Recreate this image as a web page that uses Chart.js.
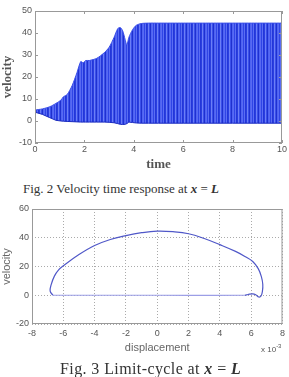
<!DOCTYPE html>
<html>
<head>
<meta charset="utf-8">
<script src="https://cdn.jsdelivr.net/npm/chart.js@4/dist/chart.umd.min.js"></script>
<style>
  body { margin: 0; background: #fff; width: 289px; height: 377px; position: relative; overflow: hidden; }
  .box { position: absolute; left: 0; width: 289px; }
  .cap { position: absolute; font-family: "Liberation Serif", serif; color: #333; white-space: nowrap; }
  .cap b { font-style: italic; }
  #exp { position: absolute; left: 261px; top: 343px; font-family: "Liberation Sans", sans-serif; font-size: 8px; color: #555; }
  #exp sup { font-size: 6px; }
</style>
</head>
<body>
<div class="box" style="top:0;height:172px"><canvas id="graph2" width="289" height="172"></canvas></div>
<div class="cap" id="cap2" style="left:23px;top:181px;font-size:13px">Fig. 2 Velocity time response at <b>x</b> = <b>L</b></div>
<div class="box" style="top:200px;height:155px"><canvas id="graph3" width="289" height="155"></canvas></div>
<div id="exp">x 10<sup>-3</sup></div>
<div class="cap" id="cap3" style="left:60px;top:360px;font-size:16px;letter-spacing:0.4px">Fig. 3 Limit‑cycle at <b>x</b> = <b>L</b></div>
<script>
// Fig. 2 - envelope of the velocity oscillation
const timeVals = [0, 0.3, 0.6, 0.85, 1.05, 1.15, 1.3, 1.5, 1.7, 1.85, 1.95, 2.05, 2.2, 2.5, 2.8, 3.0, 3.2, 3.35, 3.45, 3.55, 3.65, 3.72, 3.8, 3.95, 4.1, 4.3, 4.6, 5, 6, 7, 8, 9, 10];
const velUpper = [5, 5.5, 6.5, 8, 9.5, 11, 12, 16, 22, 27, 26.5, 27.5, 27.5, 28.5, 31, 33.5, 38, 42, 42.5, 41, 37, 34.5, 38, 41.5, 43.5, 44.3, 44.5, 44.5, 44.5, 44.5, 44.5, 44.5, 44.5];
const velLower = [4, 3, 1.5, 0.3, 0, -0.1, -0.2, -0.3, -0.4, -0.5, -0.5, -0.5, -0.5, -0.5, -0.5, -0.6, -0.8, -1.2, -1.5, -1.6, -1.5, -1.2, -0.5, -0.7, -0.9, -1, -1, -1, -1, -1, -1, -1, -1];

// Fig. 3 - limit cycle (displacement x 10^-3, velocity)
const dispCycle = [-6.67, -6.84, -6.78, -6.57, -6.3, -6.0, -5.0, -4.0, -3.0, -2.0, -1.0, 0, 1.0, 2.0, 3.0, 4.0, 5.0, 5.6, 6.1, 6.45, 6.65, 6.74, 6.72, 6.63, 6.48, 6.31, 6.1, 5.79, 5.58, 0, -6.67];
const velCycle  = [0, 2.9, 7.2, 13.3, 17.6, 20.5, 28.3, 34.6, 38.8, 41.5, 43.5, 44.6, 44.2, 42.8, 39.5, 35.2, 30.5, 27, 23.5, 18.5, 13, 7.7, 3, -0.5, -1.2, 0.2, 1, 0.5, 0, 0, 0];

const timeTicks = [0, 2, 4, 6, 8, 10];
const velTicks2 = [-10, 0, 10, 20, 30, 40, 50];
const dispTicks = [-8, -6, -4, -2, 0, 2, 4, 6, 8];
const velTicks3 = [-20, 0, 20, 40, 60];

const tickFont = { family: "Liberation Sans", size: 9 };

// vertical stripes like the dense oscillation
function stripes(ctx) {
  const c = document.createElement('canvas');
  c.width = 9; c.height = 4;
  const g = c.getContext('2d');
  const cols = ['#2f45e6', '#5a6df3', '#2336d8', '#2a3fe0', '#6c7ef6', '#3a50ea', '#1f30cf', '#4d63f2', '#5869f2'];
  cols.forEach((col, i) => { g.fillStyle = col; g.fillRect(i, 0, 1, 4); });
  return ctx.createPattern(c, 'repeat');
}

// box round the plot, with short inward ticks
function frame(tickLen) {
  return {
    id: 'frame',
    afterDatasetsDraw(chart) {
      const a = chart.chartArea, ctx = chart.ctx;
      ctx.save();
      ctx.strokeStyle = '#999';
      ctx.lineWidth = 1;
      ctx.strokeRect(a.left + 0.5, a.top + 0.5, a.right - a.left - 1, a.bottom - a.top - 1);
      if (tickLen) {
        ctx.beginPath();
        chart.scales.x.ticks.forEach(t => {
          const px = Math.round(chart.scales.x.getPixelForValue(t.value)) + 0.5;
          ctx.moveTo(px, a.top); ctx.lineTo(px, a.top + tickLen);
          ctx.moveTo(px, a.bottom); ctx.lineTo(px, a.bottom - tickLen);
        });
        chart.scales.y.ticks.forEach(t => {
          const py = Math.round(chart.scales.y.getPixelForValue(t.value)) + 0.5;
          ctx.moveTo(a.left, py); ctx.lineTo(a.left + tickLen, py);
          ctx.moveTo(a.right, py); ctx.lineTo(a.right - tickLen, py);
        });
        ctx.stroke();
      }
      ctx.restore();
    }
  };
}

function fixedTicks(vals) {
  return function (scale) { scale.ticks = vals.map(v => ({ value: v })); };
}

let graph2 = document.getElementById("graph2");

const configGraph2 = {
  type: 'line',
  data: {
    datasets: [
      {
        data: timeVals.map((t, i) => ({ x: t, y: velLower[i] })),
        borderColor: '#1a2bbf', borderWidth: 1, pointRadius: 0, fill: false
      },
      {
        data: timeVals.map((t, i) => ({ x: t, y: velUpper[i] })),
        borderColor: '#3a4fe8', borderWidth: 1, pointRadius: 0, tension: 0.25,
        fill: '-1', backgroundColor: stripes(graph2.getContext('2d'))
      }
    ]
  },
  options: {
    responsive: false,
    animation: false,
    plugins: { legend: { display: false }, tooltip: { enabled: false } },
    layout: { padding: { top: 11, right: 7, left: 0, bottom: 0 } },
    scales: {
      x: {
        type: 'linear', min: 0, max: 10,
        afterBuildTicks: fixedTicks(timeTicks),
        afterFit(s) { s.height = 29; },
        grid: { display: false, drawTicks: false },
        border: { display: false },
        ticks: { font: tickFont, color: '#555', padding: 1 },
        title: { display: true, text: 'time', color: '#555', padding: 0,
                 font: { family: "Liberation Serif", size: 13, weight: 'bold' } }
      },
      y: {
        min: -10, max: 50,
        afterBuildTicks: fixedTicks(velTicks2),
        afterFit(s) { s.width = 35; },
        grid: { display: false, drawTicks: false },
        border: { display: false },
        ticks: { font: tickFont, color: '#555', padding: 3 },
        title: { display: true, text: 'velocity', color: '#555', padding: 0,
                 font: { family: "Liberation Serif", size: 13, weight: 'bold' } }
      }
    }
  },
  plugins: [frame(3)]
};
new Chart(graph2, configGraph2);

let graph3 = document.getElementById("graph3");
const configGraph3 = {
  type: 'line',
  data: {
    datasets: [{
      data: dispCycle.map((d, i) => ({ x: d, y: velCycle[i] })),
      borderColor: '#5058c8', borderWidth: 1.2, pointRadius: 0, tension: 0.4, fill: false,
      segment: {
        // the return stroke along v = 0 is drawn fainter
        borderColor: c => (c.p0.parsed.y === 0 && c.p1.parsed.y === 0) ? '#9c9ee6' : undefined
      }
    }]
  },
  options: {
    responsive: false,
    animation: false,
    plugins: { legend: { display: false }, tooltip: { enabled: false } },
    layout: { padding: { top: 9, right: 6, left: 0, bottom: 0 } },
    scales: {
      x: {
        type: 'linear', min: -8, max: 8,
        afterBuildTicks: fixedTicks(dispTicks),
        afterFit(s) { s.height = 31; },
        grid: { color: '#aaa', drawTicks: false },
        border: { display: false, dash: [1, 2] },
        ticks: { font: tickFont, color: '#555', padding: 4 },
        title: { display: true, text: 'displacement', color: '#666', padding: 0,
                 font: { family: "Liberation Sans", size: 11 } }
      },
      y: {
        min: -20, max: 60,
        afterBuildTicks: fixedTicks(velTicks3),
        afterFit(s) { s.width = 32; },
        grid: { color: '#aaa', drawTicks: false },
        border: { display: false, dash: [1, 2] },
        ticks: { font: tickFont, color: '#555', padding: 3 },
        title: { display: true, text: 'velocity', color: '#666', padding: 0,
                 font: { family: "Liberation Sans", size: 11 } }
      }
    }
  },
  plugins: [frame(0)]
};
new Chart(graph3, configGraph3);
</script>
</body>
</html>
